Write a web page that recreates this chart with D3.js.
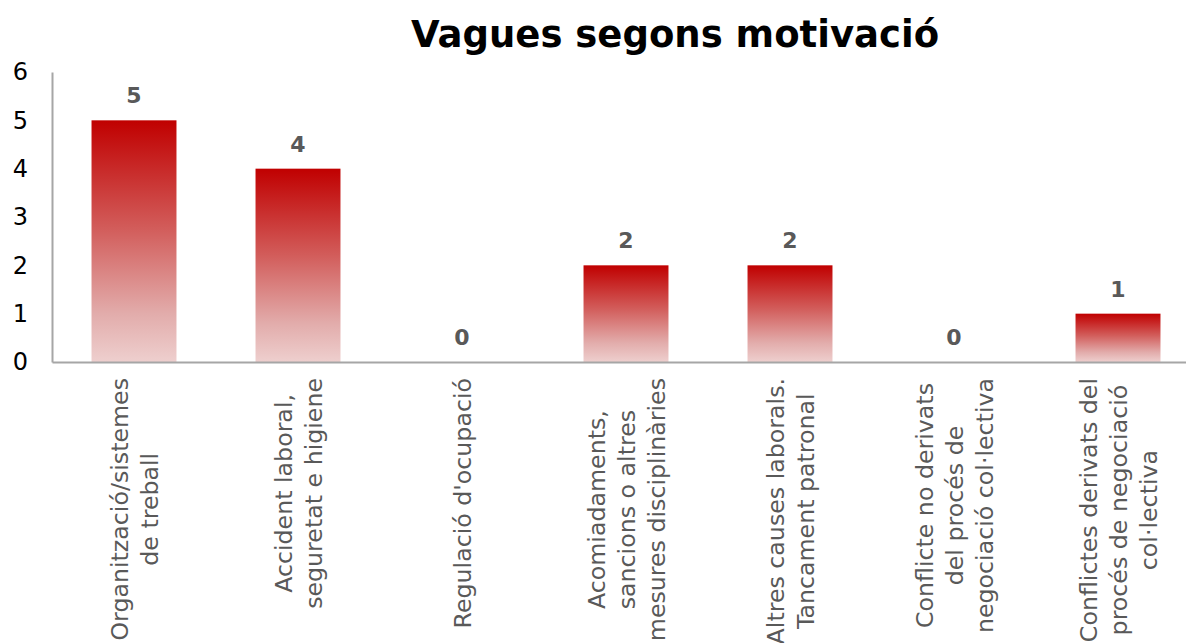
<!DOCTYPE html>
<html>
<head>
<meta charset="utf-8">
<script src="https://cdn.jsdelivr.net/npm/d3@7"></script>
<style>
  html, body { margin: 0; padding: 0; background: #fff; }
  svg { display: block; font-family: "DejaVu Sans", Verdana, sans-serif; }
</style>
</head>
<body>
<svg id="chart" width="1186" height="643"></svg>
<script>
// Strike counts by motivation
const categories = [
  ["Organització/sistemes", "de treball"],
  ["Accident laboral,", "seguretat e higiene"],
  ["Regulació d'ocupació"],
  ["Acomiadaments,", "sancions o altres", "mesures disciplinàries"],
  ["Altres causes laborals.", "Tancament patronal"],
  ["Conflicte no derivats", "del procés de", "negociació col·lectiva"],
  ["Conflictes derivats del", "procés de negociació", "col·lectiva"]
];
const values = [5, 4, 0, 2, 2, 0, 1];
const yTicks = [0, 1, 2, 3, 4, 5, 6];
const title = "Vagues segons motivació";

const svg = d3.select("#chart");
const plotLeft = 52, plotRight = 1200, plotTop = 72, plotBase = 362;

const keys = categories.map((c, i) => i);
const x = d3.scaleBand().domain(keys).range([plotLeft, plotRight])
  .paddingInner(0.482).paddingOuter(0.241);
const y = d3.scaleLinear().domain([0, 6]).range([plotBase, plotTop]);

// Vertical gradient applied to each bar
const defs = svg.append("defs");
const grad = defs.append("linearGradient")
  .attr("id", "barFill").attr("x1", 0).attr("y1", 0).attr("x2", 0).attr("y2", 1);
[[0, "#C00000"], [0.45, "#D25D5B"], [0.8, "#E2ACAB"], [1, "#EECFCE"]]
  .forEach(([o, c]) => grad.append("stop").attr("offset", o).attr("stop-color", c));

// Title
svg.append("text")
  .attr("x", 675).attr("y", 47)
  .attr("text-anchor", "middle")
  .attr("font-size", 37).attr("font-weight", "bold").attr("fill", "#000")
  .text(title);

// Bars
svg.append("g").selectAll("rect")
  .data(values.map((v, i) => ({ v, i })).filter(d => d.v > 0))
  .join("rect")
  .attr("x", d => x(d.i))
  .attr("width", x.bandwidth())
  .attr("y", d => y(d.v))
  .attr("height", d => y(0) - y(d.v))
  .attr("fill", "url(#barFill)");

// Value labels
svg.append("g").selectAll("text")
  .data(values.map((v, i) => ({ v, i })))
  .join("text")
  .attr("x", d => x(d.i) + x.bandwidth() / 2)
  .attr("y", d => y(d.v) - 17)
  .attr("text-anchor", "middle")
  .attr("font-size", 22).attr("font-weight", "bold").attr("fill", "#595959")
  .text(d => d.v);

// Y axis
const yAxis = svg.append("g")
  .attr("transform", `translate(${plotLeft},0)`)
  .call(d3.axisLeft(y).tickValues(yTicks).tickSize(0).tickPadding(24).tickFormat(d3.format("d")));
yAxis.select(".domain").attr("stroke", "#A6A6A6").attr("stroke-width", 2);
yAxis.selectAll("text").attr("font-size", 24).attr("fill", "#000")
  .attr("font-family", "DejaVu Sans, Verdana, sans-serif");

// X axis baseline
const xAxis = svg.append("g")
  .attr("transform", `translate(0,${plotBase})`)
  .call(d3.axisBottom(x).tickSize(0).tickFormat(""));
xAxis.select(".domain").attr("stroke", "#A6A6A6").attr("stroke-width", 2);

// Rotated category labels, lines centred on each other, top aligned under the axis
const lineH = 30;
const labelTop = 378;
categories.forEach((lines, i) => {
  const cx = x(i) + x.bandwidth() / 2;
  const t = svg.append("text")
    .attr("font-size", 23.7).attr("fill", "#595959")
    .attr("text-anchor", "middle");
  lines.forEach(ln => t.append("tspan").text(ln));
  const spans = t.selectAll("tspan").nodes();
  const maxLen = d3.max(spans, s => s.getComputedTextLength());
  const n = lines.length;
  const cy = labelTop + maxLen / 2;
  spans.forEach((s, j) => {
    const off = (j - (n - 1) / 2) * lineH;
    d3.select(s).attr("x", 0).attr("y", off + 8.5);
  });
  t.attr("transform", `translate(${cx},${cy}) rotate(-90)`);
});
</script>
</body>
</html>
